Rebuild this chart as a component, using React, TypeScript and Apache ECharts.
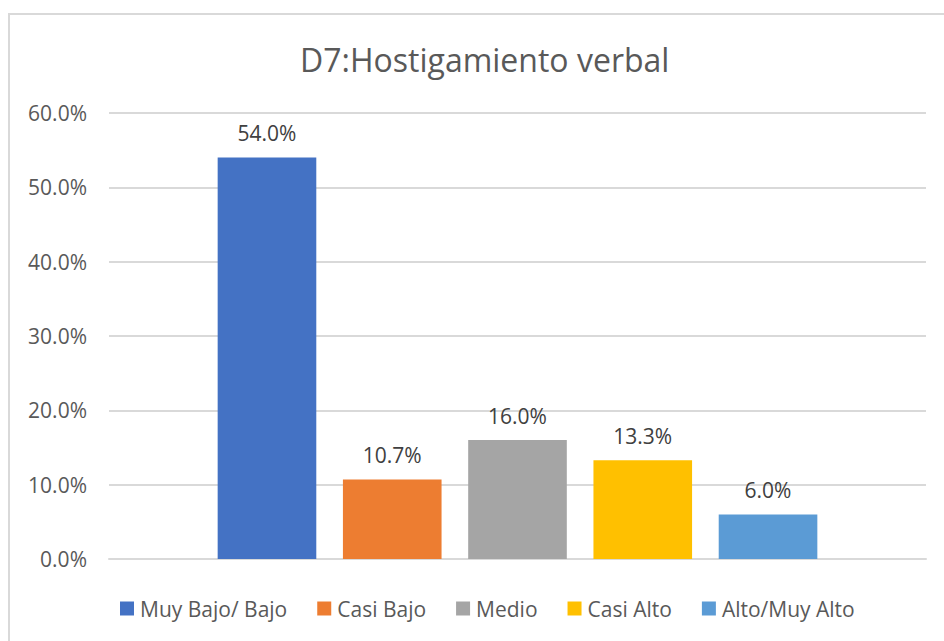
import React, { useEffect, useRef } from "react";
import * as echarts from "echarts";

const titleText = "D7:Hostigamiento verbal";
const seriesNames = ["Muy Bajo/ Bajo", "Casi Bajo", "Medio", "Casi Alto", "Alto/Muy Alto"];
const seriesValues = [54.0, 10.7, 16.0, 13.3, 6.0];
const seriesColors = ["#4472C4", "#ED7D31", "#A5A5A5", "#FFC000", "#5B9BD5"];
const categories = [""];

const FONT = "'Open Sans', 'Noto Sans', sans-serif";

export default function App() {
  const ref = useRef<HTMLDivElement>(null);
  useEffect(() => {
    if (!ref.current) return;
    const chart = echarts.init(ref.current, null, { renderer: "svg" });
    chart.setOption({
      animation: false,
      backgroundColor: "#ffffff",
      textStyle: { fontFamily: FONT },
      title: {
        text: titleText,
        left: 295,
        top: 38,
        textStyle: { fontFamily: FONT, fontSize: 32, fontWeight: "normal", color: "#595959" },
      },
      graphic: [
        {
          type: "rect",
          shape: { x: 9, y: 14, width: 1000, height: 700 },
          style: { fill: "none", stroke: "#d9d9d9", lineWidth: 2 },
          silent: true,
        },
      ],
      legend: {
        bottom: 17,
        left: 115,
        itemWidth: 14,
        itemHeight: 14,
        itemGap: 30,
        icon: "rect",
        textStyle: { fontFamily: FONT, fontSize: 21, color: "#595959", padding: [0, 0, 0, 1] },
        data: seriesNames,
      },
      grid: { left: 109, right: 18, top: 113, bottom: 82, containLabel: false },
      xAxis: {
        type: "category",
        data: categories,
        axisLine: { lineStyle: { color: "#d9d9d9", width: 2 } },
        axisTick: { show: false },
        axisLabel: { show: false },
      },
      yAxis: {
        type: "value",
        min: 0,
        max: 60,
        interval: 10,
        axisLine: { show: false },
        axisTick: { show: false },
        splitLine: { lineStyle: { color: "#d9d9d9", width: 2 } },
        axisLabel: {
          fontFamily: FONT,
          fontSize: 21,
          color: "#595959",
          margin: 22,
          formatter: (v: number) => v.toFixed(1) + "%",
        },
      },
      series: seriesNames.map((name, i) => ({
        name,
        type: "bar",
        data: [seriesValues[i]],
        itemStyle: { color: seriesColors[i] },
        barGap: "27%",
        barCategoryGap: "26.6%",
        label: {
          show: true,
          position: "top",
          distance: 14,
          fontFamily: FONT,
          fontSize: 21,
          color: "#404040",
          formatter: (p: any) => Number(p.value).toFixed(1) + "%",
        },
      })),
    });
    return () => chart.dispose();
  }, []);
  return (
    <div
      ref={ref}
      style={{ position: "fixed", left: 0, top: 0, width: 944, height: 641 }}
    />
  );
}
